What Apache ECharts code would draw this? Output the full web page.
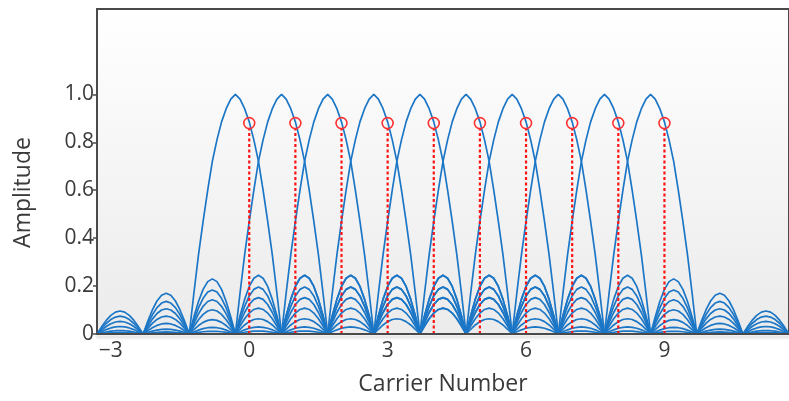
<!DOCTYPE html>
<html lang="en">
<head>
    <meta charset="UTF-8">
    <title>Carriers</title>
    <script src="https://cdn.jsdelivr.net/npm/echarts@6/dist/echarts.min.js"></script>
    <style>
        html, body { margin: 0; padding: 0; background: #fff; }
        #main { width: 789px; height: 401px; }
    </style>
</head>
<body>
<div id="main"></div>
<script>
    // carrier peak positions (x) and the sampling points marked in red
    var carrierPeaks = [-0.3, 0.7, 1.7, 2.7, 3.7, 4.7, 5.7, 6.7, 7.7, 8.7];
    var sampleCarriers = [0, 1, 2, 3, 4, 5, 6, 7, 8, 9];
    var sampleAmps = [0.88, 0.88, 0.88, 0.88, 0.88, 0.88, 0.88, 0.88, 0.88, 0.88];

    // main lobe, read at distance 0, 0.1 ... 1.0 from the peak
    var mainLobe = [1.0, 0.98, 0.94, 0.885, 0.81, 0.72, 0.6, 0.47, 0.33, 0.17, 0];
    // one side lobe (normalised), read across the lobe width in 0.1 steps
    var archShape = [0, 0.31, 0.59, 0.81, 0.95, 1, 0.95, 0.81, 0.59, 0.31, 0];
    // height of the tallest side lobe in each lobe between zeros, left to right
    var lobeTop = [0.12, 0.17, 0.23, 0.245, 0.245, 0.245, 0.245, 0.245, 0.245, 0.245, 0.245, 0.245, 0.23, 0.17, 0.12];
    // side lobe 1, 2, 3 ... relative to the tallest one
    var lobeOrder = [1, 0.8, 0.62, 0.44, 0.26, 0.12, 0.05, 0, 0, 0, 0];

    var xTicks = [-3, 0, 3, 6, 9];
    var yTicks = [0, 0.2, 0.4, 0.6, 0.8, 1.0];

    var xStart = -3.3, xEnd = 11.7;

    function carrierData(k) {
        var pts = [];
        for (var m = 0; m < lobeTop.length; m++) {
            var lobeStart = xStart + m;
            for (var i = 0; i <= 10; i++) {
                if (i === 0 && m > 0) continue;
                var x = +(lobeStart + i / 10).toFixed(2);
                var y;
                var off = Math.round(lobeStart - carrierPeaks[k]); // lobe start relative to peak
                if (off === -1) {
                    y = mainLobe[10 - i];
                } else if (off === 0) {
                    y = mainLobe[i];
                } else {
                    var n = off > 0 ? off : -off - 1;
                    y = lobeTop[m] * lobeOrder[n - 1] * archShape[i];
                }
                pts.push([x, y]);
            }
        }
        return pts;
    }

    var series = [];
    for (var k = 0; k < carrierPeaks.length; k++) {
        series.push({
            type: 'line',
            data: carrierData(k),
            showSymbol: false,
            silent: true,
            lineStyle: { color: '#1c76c6', width: 1.7 },
            z: 2
        });
    }

    series.push({
        type: 'custom',
        data: sampleCarriers.map(function (c, i) { return [c, sampleAmps[i]]; }),
        z: 5,
        renderItem: function (params, api) {
            var top = api.coord([api.value(0), api.value(1)]);
            var base = api.coord([api.value(0), 0]);
            var r = 5.5;
            return {
                type: 'group',
                children: [{
                    type: 'line',
                    shape: { x1: base[0], y1: base[1], x2: top[0], y2: top[1] + r },
                    style: { stroke: '#ff1414', lineWidth: 2.2, lineDash: [3, 2.5] }
                }, {
                    type: 'circle',
                    shape: { cx: top[0], cy: top[1], r: r },
                    style: { fill: 'none', stroke: '#ff3030', lineWidth: 1.6 }
                }]
            };
        }
    });

    var myChart = echarts.init(document.getElementById('main'));

    var option = {
        animation: false,
        textStyle: { fontFamily: 'Open Sans' },
        grid: {
            left: 97, right: -2, top: 9, bottom: 62,
            show: true,
            borderColor: '#4a4a4a',
            borderWidth: 2,
            backgroundColor: new echarts.graphic.LinearGradient(0, 0, 0, 1, [
                { offset: 0, color: '#ffffff' },
                { offset: 1, color: '#ebebeb' }
            ])
        },
        xAxis: {
            type: 'value',
            min: xStart,
            max: xEnd,
            z: 6,
            name: 'Carrier Number',
            nameLocation: 'middle',
            nameGap: 39,
            nameTextStyle: { fontSize: 23, color: '#3a3a3a', fontFamily: 'Open Sans' },
            axisLine: {
                show: true,
                onZero: false,
                lineStyle: { color: '#4a4a4a', width: 2, shadowColor: 'rgba(0,0,0,0.18)', shadowBlur: 3, shadowOffsetY: 3 }
            },
            axisTick: { show: false },
            splitLine: { show: false },
            axisLabel: {
                customValues: xTicks,
                margin: 7,
                fontSize: 21,
                color: '#3a3a3a',
                fontFamily: 'Open Sans',
                formatter: function (v) { return v < 0 ? '\u2212' + (-v) : '' + v; }
            }
        },
        yAxis: {
            type: 'value',
            min: 0,
            max: 1.356,
            interval: 0.2,
            name: 'Amplitude',
            nameLocation: 'middle',
            nameGap: 62,
            nameTextStyle: { fontSize: 23, color: '#3a3a3a', fontFamily: 'Open Sans', padding: [0, 42, 0, 0] },
            axisLine: { show: false, onZero: false },
            axisTick: { show: true, inside: false, length: 4, customValues: yTicks, lineStyle: { color: '#4a4a4a', width: 1.5 } },
            splitLine: { show: false },
            axisLabel: {
                customValues: yTicks,
                margin: 3,
                fontSize: 21,
                color: '#3a3a3a',
                fontFamily: 'Open Sans',
                formatter: function (v) { return v === 0 ? '0' : v.toFixed(1); }
            }
        },
        series: series
    };

    myChart.setOption(option);
</script>
</body>
</html>
